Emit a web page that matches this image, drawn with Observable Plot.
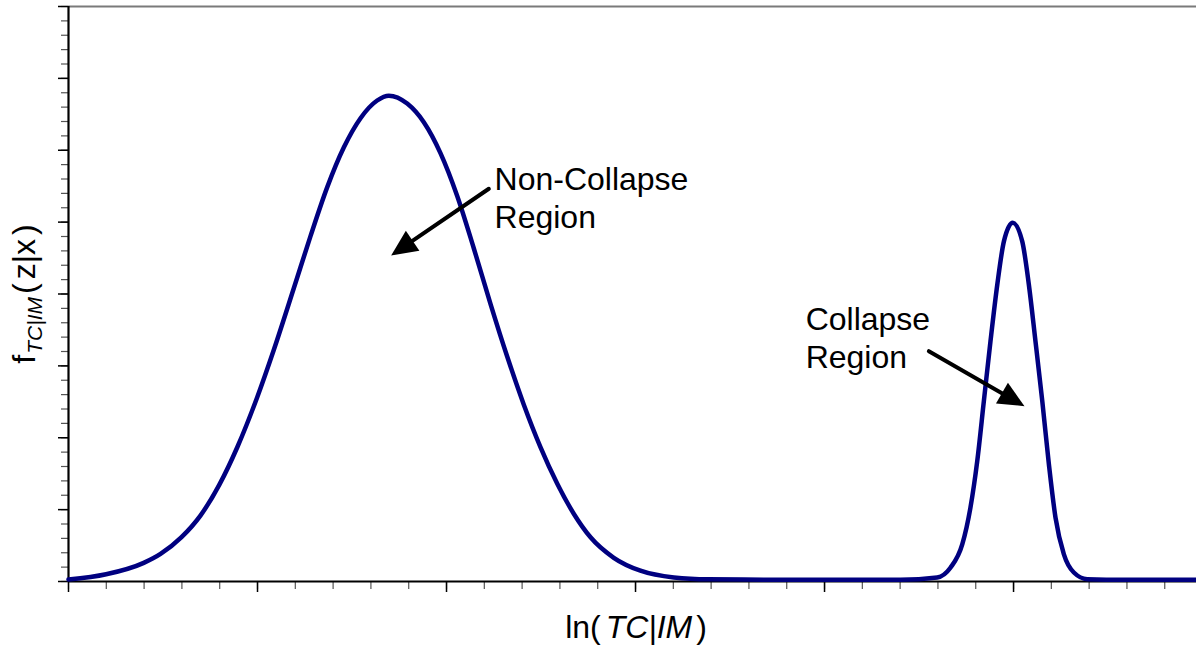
<!DOCTYPE html>
<html>
<head>
<meta charset="utf-8">
<script src="https://cdn.jsdelivr.net/npm/d3@7"></script>
<script src="https://cdn.jsdelivr.net/npm/@observablehq/plot@0.6"></script>
<style>
  html, body { margin: 0; padding: 0; background: #fff; }
  #chart { width: 1196px; height: 648px; }
</style>
</head>
<body>
<div id="chart"></div>
<script>
// ---- data ----
const lnTC = [0.000, 0.199, 0.398, 0.487, 0.598, 0.698, 0.799, 0.893, 0.998, 1.086, 1.192, 1.280, 1.369, 1.457, 1.545, 1.633, 1.695, 1.792, 1.880, 1.968, 2.057, 2.145, 2.233, 2.321, 2.409, 2.497, 2.586, 2.674, 2.762, 2.885, 3.026, 3.203, 3.386, 3.8, 4.2, 4.402, 4.596, 4.667, 4.729, 4.772, 4.808, 4.843, 4.878, 4.914, 4.949, 4.996, 5.046, 5.081, 5.116, 5.152, 5.187, 5.222, 5.266, 5.319, 5.390, 5.6, 5.968];
const density = [0.028, 0.100, 0.259, 0.384, 0.617, 0.917, 1.351, 1.868, 2.561, 3.221, 4.080, 4.802, 5.487, 6.041, 6.446, 6.692, 6.760, 6.650, 6.390, 5.960, 5.360, 4.630, 3.860, 3.130, 2.460, 1.870, 1.360, 0.940, 0.615, 0.330, 0.150, 0.056, 0.030, 0.025, 0.024, 0.024, 0.056, 0.194, 0.519, 1.028, 1.676, 2.510, 3.343, 4.131, 4.732, 4.990, 4.732, 4.131, 3.343, 2.510, 1.631, 0.889, 0.381, 0.125, 0.033, 0.025, 0.024];

const xMinorTicks = [0,0.2,0.4,0.6,0.8,1,1.2,1.4,1.6,1.8,2,2.2,2.4,2.6,2.8,3,3.2,3.4,3.6,3.8,4,4.2,4.4,4.6,4.8,5,5.2,5.4,5.6,5.8];
const xMajorTicks = [0,1,2,3,4,5];
const yMinorTicks = [0,0.2,0.4,0.6,0.8,1,1.2,1.4,1.6,1.8,2,2.2,2.4,2.6,2.8,3,3.2,3.4,3.6,3.8,4,4.2,4.4,4.6,4.8,5,5.2,5.4,5.6,5.8,6,6.2,6.4,6.6,6.8,7,7.2,7.4,7.6,7.8,8];
const yMajorTicks = [0,1,2,3,4,5,6,7,8];

const labelTexts = ["Non-Collapse\nRegion", "Collapse\nRegion"];
const labelX = [2.254, 3.900];
const labelY = [5.830, 3.876];
const arrowFromX = [2.224, 4.552];
const arrowFromY = [5.464, 3.204];
const arrowToX = [1.707, 5.058];
const arrowToY = [4.537, 2.440];

// ---- tables built from the arrays ----
const curve = lnTC.map((x, i) => ({x, y: density[i]}));
const labels = labelTexts.map((t, i) => ({t, x: labelX[i], y: labelY[i]}));
const arrows = arrowFromX.map((x1, i) => {
  return {x1, y1: arrowFromY[i], x2: arrowToX[i], y2: arrowToY[i]};
});

const W = 1196, H = 648;
const mL = 68, mR = 0, mT = 6, mB = 67;

// filled arrow-head symbol, tip at origin, pointing up
const arrowHead = {
  draw(ctx) {
    ctx.moveTo(0, 0);
    ctx.lineTo(-12, 26);
    ctx.lineTo(12, 26);
    ctx.closePath();
  }
};

const xScale = d3.scaleLinear([0, 5.968], [mL, W - mR]);
const yScale = d3.scaleLinear([0, 8], [H - mB, mT]);
arrows.forEach(a => {
  const dx = xScale(a.x2) - xScale(a.x1), dy = yScale(a.y2) - yScale(a.y1);
  a.rot = Math.atan2(dy, dx) * 180 / Math.PI + 90;
});

const chart = Plot.plot({
  width: W, height: H,
  marginLeft: mL, marginRight: mR, marginTop: mT, marginBottom: mB,
  style: {fontFamily: "'Liberation Sans', Arial, sans-serif", background: "#fff", color: "#000"},
  x: {domain: [0, 5.968]},
  y: {domain: [0, 8]},
  marks: [
    Plot.ruleY([8], {stroke: "#7a7a7a", strokeWidth: 2}),
    Plot.axisX({ticks: xMinorTicks, tickSize: 8, tickFormat: () => "", stroke: "#555", strokeWidth: 1.2, label: null}),
    Plot.axisX({ticks: xMajorTicks, tickSize: 11, tickFormat: () => "", stroke: "#000", strokeWidth: 1.5, label: null}),
    Plot.axisY({ticks: yMinorTicks, tickSize: 7, tickFormat: () => "", stroke: "#555", strokeWidth: 1.2, label: null}),
    Plot.axisY({ticks: yMajorTicks, tickSize: 10, tickFormat: () => "", stroke: "#000", strokeWidth: 1.5, label: null}),
    Plot.ruleY([0], {stroke: "#000", strokeWidth: 2.2}),
    Plot.ruleX([0], {stroke: "#000", strokeWidth: 2.2}),
    Plot.line(curve, {x: "x", y: "y", stroke: "#000080", strokeWidth: 4.5, curve: "monotone-x"}),
    Plot.arrow(arrows, {x1: "x1", y1: "y1", x2: "x2", y2: "y2", stroke: "#000", strokeWidth: 4, headLength: 0, insetEnd: 20}),
    Plot.dot(arrows, {x: "x2", y: "y2", symbol: arrowHead, rotate: "rot", fill: "#000", stroke: "none"}),
    Plot.text(labels, {x: "x", y: "y", text: "t", textAnchor: "start", lineAnchor: "top", fontSize: 32, lineHeight: 1.19, fill: "#000"})
  ]
});

const svg = d3.select(chart);
// x axis title
const xt = svg.append("text")
  .attr("x", 636).attr("y", 638)
  .attr("text-anchor", "middle")
  .attr("font-size", 32)
  .attr("fill", "#000");
xt.append("tspan").text("ln(");
xt.append("tspan").attr("dx", 5).attr("font-style", "italic").text("TC|IM");
xt.append("tspan").attr("dx", 4).text(")");

// y axis title
const yt = svg.append("text")
  .attr("transform", "translate(35,294) rotate(-90)")
  .attr("text-anchor", "middle")
  .attr("font-size", 32)
  .attr("fill", "#000");
yt.append("tspan").text("f");
yt.append("tspan").attr("font-style", "italic").attr("font-size", 21).attr("dy", 7).attr("dx", 1).text("TC|IM");
yt.append("tspan").attr("dy", -7).attr("dx", 3).text("(");
yt.append("tspan").attr("dx", 4).text("z|x");
yt.append("tspan").attr("dx", 4).text(")");

document.getElementById("chart").appendChild(chart);
</script>
</body>
</html>
